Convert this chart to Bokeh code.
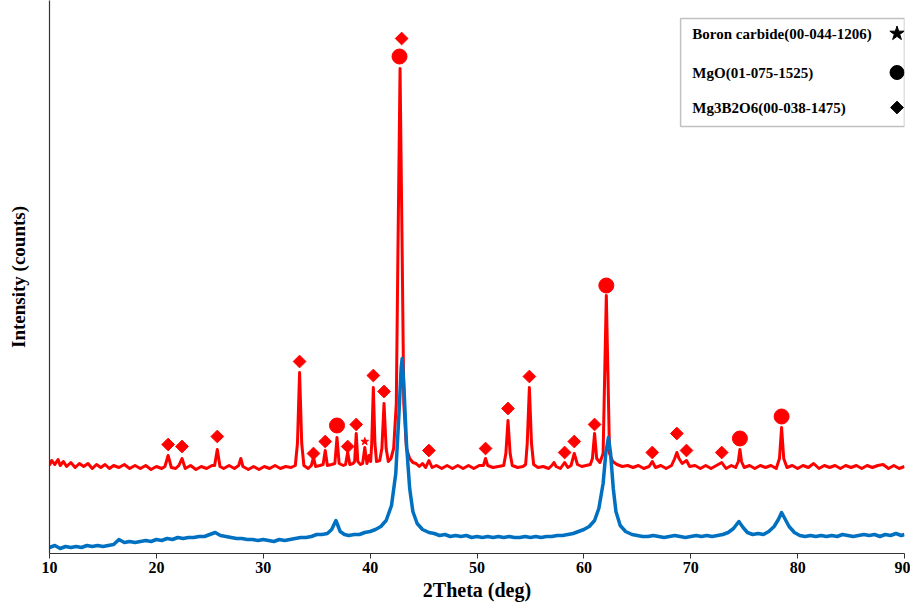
import numpy as np
from bokeh.plotting import figure
from bokeh.models import Range1d, FixedTicker, BoxAnnotation, Label
from bokeh.embed import file_html
from bokeh.resources import INLINE

# ---------------- data ----------------
x_ticks = [10, 20, 30, 40, 50, 60, 70, 80, 90]

# sintered sample (red), 2theta and intensity (a.u.)
red_2theta = [
    10.0, 10.2, 10.5, 10.8, 11.0, 11.3, 11.6, 12.0, 12.4, 12.8,
    13.2, 13.6, 14.0, 14.4, 14.8, 15.2, 15.6, 16.0, 16.5, 17.0,
    17.5, 18.0, 18.5, 19.0, 19.5, 20.0, 20.5, 20.8, 21.1, 21.4,
    21.8, 22.1, 22.4, 22.7, 23.2, 23.7, 24.2, 24.7, 25.2, 25.45,
    25.7, 25.95, 26.3, 26.8, 27.3, 27.7, 27.9, 28.1, 28.6, 29.1,
    29.6, 30.1, 30.6, 31.1, 31.6, 32.1, 32.6, 33.0, 33.2, 33.4,
    33.6, 33.8, 34.2, 34.5, 34.7, 34.9, 35.3, 35.6, 35.8, 36.0,
    36.4, 36.7, 36.9, 37.1, 37.5, 37.7, 37.9, 38.1, 38.4, 38.55,
    38.7, 38.85, 39.1, 39.3, 39.5, 39.7, 39.9, 40.05, 40.15, 40.3,
    40.45, 40.6, 40.9, 41.1, 41.3, 41.5, 41.7, 41.95, 42.2, 42.45,
    42.6, 42.8, 43.0, 43.15, 43.4, 43.7, 44.0, 44.3, 44.6, 44.9,
    45.2, 45.5, 45.8, 46.2, 46.7, 47.2, 47.7, 48.2, 48.7, 49.2,
    49.7, 50.2, 50.6, 50.8, 51.0, 51.5, 52.0, 52.5, 52.7, 52.9,
    53.1, 53.3, 53.8, 54.3, 54.55, 54.7, 54.9, 55.1, 55.3, 55.7,
    56.2, 56.7, 57.0, 57.2, 57.4, 57.8, 58.2, 58.5, 58.8, 59.1,
    59.4, 59.8, 60.2, 60.6, 60.8, 61.0, 61.2, 61.5, 61.8, 61.95,
    62.1, 62.25, 62.4, 62.7, 63.1, 63.6, 64.1, 64.6, 65.1, 65.6,
    66.1, 66.4, 66.7, 67.2, 67.7, 68.2, 68.5, 68.7, 68.9, 69.2,
    69.6, 69.9, 70.4, 70.9, 71.4, 71.9, 72.4, 72.9, 73.3, 73.8,
    74.2, 74.45, 74.6, 74.75, 75.0, 75.5, 76.0, 76.5, 77.0, 77.5,
    78.0, 78.3, 78.5, 78.7, 79.0, 79.5, 80.0, 80.5, 81.0, 81.5,
    82.0, 82.5, 83.0, 83.5, 84.0, 84.5, 85.0, 85.5, 86.0, 86.5,
    87.0, 87.5, 88.0, 88.5, 89.0, 89.5, 90.0,
]
red_counts = [
    88, 93, 89, 94, 88, 92, 87, 91, 86, 90,
    87, 90, 85, 89, 86, 89, 85, 88, 86, 89,
    85, 88, 85, 88, 84, 87, 85, 87, 98, 86,
    85, 88, 95, 85, 88, 84, 87, 85, 88, 88,
    104, 87, 85, 88, 85, 88, 95, 87, 84, 87,
    84, 87, 85, 88, 85, 87, 86, 88, 110, 181,
    110, 88, 85, 88, 96, 87, 88, 89, 103, 88,
    89, 90, 116, 90, 88, 89, 101, 89, 90, 92,
    120, 92, 89, 90, 106, 90, 98, 92, 110, 166,
    110, 92, 93, 105, 150, 105, 92, 95, 105, 150,
    300, 485, 300, 150, 105, 95, 91, 90, 87, 90,
    86, 93, 86, 88, 85, 88, 85, 88, 85, 88,
    85, 88, 88, 95, 88, 86, 87, 88, 100, 133,
    100, 88, 86, 87, 89, 110, 166, 110, 89, 86,
    87, 85, 88, 91, 87, 85, 91, 86, 88, 100,
    89, 87, 88, 89, 95, 120, 95, 91, 100, 180,
    258, 180, 100, 92, 89, 87, 88, 86, 88, 85,
    87, 92, 86, 88, 85, 88, 95, 101, 95, 90,
    93, 87, 88, 85, 88, 85, 88, 91, 85, 88,
    86, 92, 104, 92, 86, 88, 85, 88, 86, 88,
    85, 95, 126, 95, 86, 88, 85, 88, 86, 90,
    85, 88, 86, 88, 85, 88, 86, 88, 85, 88,
    86, 88, 89, 85, 88, 85, 87,
]

# starting powder (blue)
blue_2theta = [
    10.0, 10.5, 11.0, 11.5, 12.0, 12.5, 13.0, 13.5, 14.0, 14.5,
    15.0, 15.5, 16.0, 16.5, 17.0, 17.5, 18.0, 18.5, 19.0, 19.5,
    20.0, 20.5, 21.0, 21.5, 22.0, 22.5, 23.0, 23.5, 24.0, 24.5,
    25.0, 25.5, 26.0, 26.5, 27.0, 27.5, 28.0, 28.5, 29.0, 29.5,
    30.0, 30.5, 31.0, 31.5, 32.0, 32.5, 33.0, 33.5, 34.0, 34.5,
    35.0, 35.5, 36.0, 36.4, 36.8, 37.2, 37.6, 38.0, 38.5, 39.0,
    39.5, 40.0, 40.5, 41.0, 41.5, 42.0, 42.4, 42.7, 42.9, 43.0,
    43.15, 43.4, 43.7, 44.0, 44.4, 44.9, 45.5, 46.0, 46.5, 47.0,
    47.5, 48.0, 48.5, 49.0, 49.5, 50.0, 50.5, 51.0, 51.5, 52.0,
    52.5, 53.0, 53.5, 54.0, 54.5, 55.0, 55.5, 56.0, 56.5, 57.0,
    57.5, 58.0, 58.5, 59.0, 59.5, 60.0, 60.5, 61.0, 61.4, 61.8,
    62.05, 62.3, 62.5, 62.75, 63.0, 63.4, 63.9, 64.5, 65.0, 65.5,
    66.0, 66.5, 67.0, 67.5, 68.0, 68.5, 69.0, 69.5, 70.0, 70.5,
    71.0, 71.5, 72.0, 72.5, 73.0, 73.5, 74.0, 74.5, 74.9, 75.3,
    75.8, 76.3, 76.8, 77.3, 77.8, 78.2, 78.5, 78.8, 79.2, 79.7,
    80.2, 80.7, 81.2, 81.7, 82.2, 82.7, 83.2, 83.7, 84.2, 84.7,
    85.2, 85.7, 86.2, 86.7, 87.2, 87.7, 88.2, 88.7, 89.2, 89.7,
    90.0,
]
blue_counts = [
    6, 8, 5, 7, 6, 7, 6, 8, 7, 8,
    7, 8, 9, 14, 11, 12, 11, 12, 13, 12,
    14, 13, 15, 14, 16, 15, 16, 16, 17, 17,
    19, 21, 18, 17, 16, 15, 15, 14, 14, 13,
    14, 13, 12, 14, 13, 14, 15, 16, 16, 17,
    19, 19, 20, 24, 33, 22, 19, 18, 19, 19,
    21, 22, 24, 27, 33, 48, 80, 140, 185, 195,
    170, 110, 65, 42, 30, 24, 21, 20, 18, 19,
    17, 18, 17, 18, 16, 17, 16, 17, 16, 17,
    16, 17, 16, 16, 17, 16, 17, 16, 17, 17,
    18, 18, 19, 20, 22, 24, 27, 33, 45, 70,
    100, 116, 100, 65, 42, 28, 22, 19, 18, 17,
    17, 18, 17, 16, 17, 18, 17, 16, 17, 18,
    17, 18, 17, 18, 19, 21, 25, 32, 26, 21,
    19, 20, 19, 22, 27, 34, 41, 35, 27, 21,
    18, 17, 18, 17, 18, 17, 18, 17, 19, 18,
    17, 18, 19, 18, 19, 17, 19, 18, 20, 18,
    19,
]

# phase markers (peak position, marker height)
mg3b2o6_2theta = [21.1, 22.4, 25.7, 33.4, 34.7, 35.8, 37.9, 38.7, 40.3, 41.3, 42.95,
                  45.5, 50.8, 52.9, 54.9, 58.2, 59.1, 61.0, 66.4, 68.7, 69.6, 72.9]
mg3b2o6_mark = [109, 107, 117, 192, 100, 112, 107, 129, 178, 162, 515,
                103, 105, 145, 177, 101, 112, 129, 101, 120, 103, 101]
mgo_2theta = [36.9, 42.75, 62.1, 74.6, 78.5]
mgo_mark = [128, 497, 268, 115, 137]
b4c_2theta = [39.5]
b4c_mark = [112]

legend_labels = ["Boron carbide(00-044-1206)", "MgO(01-075-1525)", "Mg3B2O6(00-038-1475)"]
legend_markers = ["star", "circle", "square"]

RED = "#FF0000"
BLUE = "#0070C0"
SERIF = "Liberation Serif"

# ---------------- figure ----------------
p = figure(width=910, height=606, output_backend="svg", toolbar_location=None,
           x_range=Range1d(10, 90), y_range=Range1d(0, 553),
           min_border_left=49, min_border_right=6, min_border_top=0, min_border_bottom=53)
p.outline_line_color = None
p.grid.grid_line_color = None
p.background_fill_color = "white"
p.border_fill_color = "white"

# x axis
xa = p.xaxis[0]
xa.ticker = FixedTicker(ticks=x_ticks)
xa.axis_label = "2Theta (deg)"
xa.axis_label_text_font = SERIF
xa.axis_label_text_font_style = "bold"
xa.axis_label_text_font_size = "20px"
xa.axis_label_text_color = "black"
xa.axis_label_standoff = 3
xa.major_label_text_font = SERIF
xa.major_label_text_font_style = "bold"
xa.major_label_text_font_size = "16px"
xa.major_label_text_color = "black"
xa.major_label_standoff = 3
xa.major_tick_in = 0
xa.major_tick_out = 5
xa.minor_tick_line_color = None
xa.axis_line_color = "#333333"
xa.major_tick_line_color = "#333333"
xa.axis_line_width = 1.2

# y axis (no ticks)
ya = p.yaxis[0]
ya.ticker = FixedTicker(ticks=[])
ya.axis_label = "Intensity (counts)"
ya.axis_label_text_font = SERIF
ya.axis_label_text_font_style = "bold"
ya.axis_label_text_font_size = "19px"
ya.axis_label_text_color = "black"
ya.axis_label_standoff = 21
ya.major_tick_line_color = None
ya.minor_tick_line_color = None
ya.axis_line_color = "#333333"
ya.axis_line_width = 1.2

# patterns
p.line(red_2theta, red_counts, line_color=RED, line_width=3, line_join="round")
p.line(blue_2theta, blue_counts, line_color=BLUE, line_width=3.5, line_join="round")

# phase markers
p.scatter(mg3b2o6_2theta, mg3b2o6_mark, marker="square", angle=np.pi / 4, size=9,
          fill_color=RED, line_color=RED)
p.scatter(mgo_2theta, mgo_mark, marker="circle", size=15, fill_color=RED, line_color=RED)
p.scatter(b4c_2theta, b4c_mark, marker="star", size=8, fill_color=RED, line_color=RED)

# legend box (drawn manually: text left, symbol right)
box = BoxAnnotation(left=69.05, right=90, top=535, bottom=427,
                    fill_color="white", fill_alpha=1.0,
                    line_color="#333333", line_width=1.5, level="underlay")
p.add_layout(box)

leg_y = [520, 481, 446]
for lbl, mk, yy in zip(legend_labels, legend_markers, leg_y):
    p.add_layout(Label(x=70.15, y=yy, text=lbl, text_font=SERIF, text_font_style="bold",
                       text_font_size="15px", text_color="black", text_baseline="middle"))
    if mk == "square":
        p.scatter([89.3], [yy], marker="square", angle=np.pi / 4, size=9,
                  fill_color="black", line_color="black")
    elif mk == "circle":
        p.scatter([89.3], [yy], marker="circle", size=14, fill_color="black", line_color="black")
    else:
        p.scatter([89.3], [yy], marker="star", size=15, fill_color="black", line_color="black")

open("out.html", "w").write(file_html(p, INLINE))
